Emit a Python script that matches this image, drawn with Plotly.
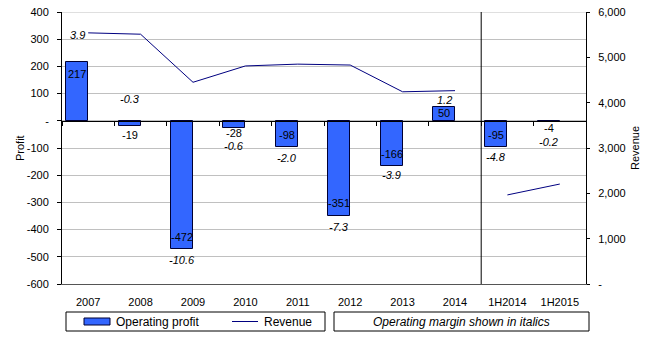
import plotly.graph_objects as go

# ---- data ----
categories = ["2007", "2008", "2009", "2010", "2011", "2012", "2013", "2014", "1H2014", "1H2015"]
operating_profit = [217, -19, -472, -28, -98, -351, -166, 50, -95, -4]
operating_margin = [3.9, -0.3, -10.6, -0.6, -2.0, -7.3, -3.9, 1.2, -4.8, -0.2]
revenue = [5540, 5510, 4450, 4810, 4850, 4830, 4240, 4265, 1965, 2205]

profit_ticks = list(range(-600, 401, 100))
profit_tick_text = ["-" if v == 0 else str(v) for v in profit_ticks]
revenue_ticks = list(range(0, 6001, 1000))
revenue_tick_text = ["-" if v == 0 else f"{v:,}" for v in revenue_ticks]

# half-year columns start here (separated by a vertical rule)
split = categories.index("1H2014")

# ---- label placement (pixel nudges from the bar end, positive = up) ----
profit_label_shift = [-12, -9, 12, -5, 12.5, 13, 12, -6, 11.7, -6]
margin_label_shift = [27, 27, -11, -17.6, -10.5, -10.4, -9, 7, -10, -20]

FONT = "Arial, Liberation Sans, sans-serif"
BAR_BLUE = "#3366FF"
NAVY = "#000080"
GRID = "#C0C0C0"

# plot area in pixels
W, H = 655, 337
L, R, T, B = 62, 69, 12, 53
PW, PH = W - L - R, H - T - B


def px_x(p):
    return (p - L) / PW


def px_y(p):
    return (T + PH - p) / PH


BAR_W = 0.42

fig = go.Figure()

fig.add_trace(go.Bar(
    x=categories, y=operating_profit, width=BAR_W, offset=-BAR_W,
    marker=dict(color=BAR_BLUE, line=dict(color="#000033", width=1)),
    name="Operating profit", showlegend=False, yaxis="y", xaxis="x",
))

fig.add_trace(go.Scatter(
    x=categories[:split], y=revenue[:split], mode="lines",
    line=dict(color=NAVY, width=1), name="Revenue", showlegend=False,
    yaxis="y2", xaxis="x",
))
fig.add_trace(go.Scatter(
    x=categories[split:], y=revenue[split:], mode="lines",
    line=dict(color=NAVY, width=1), name="Revenue", showlegend=False,
    yaxis="y2", xaxis="x",
))

# carrier for the zero-crossing category axis
fig.add_trace(go.Scatter(
    x=[-0.5, len(categories) - 0.5], y=[0, 0], mode="markers",
    marker=dict(opacity=0), hoverinfo="skip", showlegend=False,
    xaxis="x2", yaxis="y",
))

annotations = []
for i, (p, m) in enumerate(zip(operating_profit, operating_margin)):
    xc = i - BAR_W / 2
    annotations.append(dict(
        x=xc, y=p, xref="x", yref="y", text=str(p), showarrow=False,
        yanchor="middle", yshift=profit_label_shift[i],
        font=dict(family=FONT, size=11, color="black"),
    ))
    annotations.append(dict(
        x=xc, y=p, xref="x", yref="y", text=f"<i>{m:.1f}</i>", showarrow=False,
        yanchor="middle", yshift=margin_label_shift[i],
        font=dict(family=FONT, size=11, color="black"),
    ))

# axis titles
annotations.append(dict(
    x=px_x(12), y=0.5, xref="paper", yref="paper", text="Profit", textangle=-90,
    showarrow=False, font=dict(family=FONT, size=11, color="black"),
))
annotations.append(dict(
    x=px_x(643), y=0.5, xref="paper", yref="paper", text="Revenue", textangle=-90,
    showarrow=False, font=dict(family=FONT, size=11, color="black"),
))

# legend boxes
leg_top, leg_bot = 312, 331
leg_mid = (leg_top + leg_bot) / 2
annotations += [
    dict(x=px_x(114), y=px_y(leg_mid), xref="paper", yref="paper", xanchor="left",
         yanchor="middle", text="Operating profit", showarrow=False,
         font=dict(family=FONT, size=12, color="black")),
    dict(x=px_x(262), y=px_y(leg_mid), xref="paper", yref="paper", xanchor="left",
         yanchor="middle", text="Revenue", showarrow=False,
         font=dict(family=FONT, size=12, color="black")),
    dict(x=px_x(461.5), y=px_y(leg_mid), xref="paper", yref="paper", xanchor="center",
         yanchor="middle", text="<i>Operating margin shown in italics</i>", showarrow=False,
         font=dict(family=FONT, size=12, color="black")),
]

shapes = [
    # top border of the plot area, drawn like a gridline
    dict(type="line", xref="paper", yref="y", x0=0, x1=1,
         y0=profit_ticks[-1], y1=profit_ticks[-1], line=dict(color=GRID, width=1),
         layer="below"),
    # separator between full years and half years
    dict(type="line", xref="x", yref="paper", x0=split - 0.5, x1=split - 0.5, y0=0, y1=1,
         line=dict(color="black", width=1)),
    dict(type="rect", xref="paper", yref="paper", x0=px_x(66), x1=px_x(325),
         y0=px_y(leg_top), y1=px_y(leg_bot), line=dict(color="black", width=1)),
    dict(type="rect", xref="paper", yref="paper", x0=px_x(84), x1=px_x(110),
         y0=px_y(318), y1=px_y(325), fillcolor=BAR_BLUE,
         line=dict(color="#000033", width=1)),
    dict(type="line", xref="paper", yref="paper", x0=px_x(232), x1=px_x(258),
         y0=px_y(leg_mid), y1=px_y(leg_mid), line=dict(color=NAVY, width=1)),
    dict(type="rect", xref="paper", yref="paper", x0=px_x(334), x1=px_x(589),
         y0=px_y(leg_top), y1=px_y(leg_bot), line=dict(color="black", width=1)),
]

zero_pos = (0 - profit_ticks[0]) / (profit_ticks[-1] - profit_ticks[0])

fig.update_layout(
    width=W, height=H,
    margin=dict(l=L, r=R, t=T, b=B, pad=0),
    paper_bgcolor="white", plot_bgcolor="white",
    font=dict(family=FONT, size=11, color="black"),
    showlegend=False,
    bargap=0,
    xaxis=dict(
        type="category", categoryorder="array", categoryarray=categories,
        range=[-0.5, len(categories) - 0.5],
        showline=True, linecolor="#555555", linewidth=1,
        ticks="", showgrid=False, zeroline=False,
        tickfont=dict(family=FONT, size=11), ticklabelstandoff=8,
        fixedrange=True,
    ),
    xaxis2=dict(
        overlaying="x", anchor="free", position=zero_pos,
        range=[-0.5, len(categories) - 0.5],
        tickvals=[i - 0.5 for i in range(len(categories) + 1)],
        ticks="outside", ticklen=4, tickcolor="black",
        showticklabels=False, showline=True, linecolor="black", linewidth=1,
        showgrid=False, zeroline=False,
    ),
    yaxis=dict(
        range=[profit_ticks[0], profit_ticks[-1]],
        tickvals=profit_ticks, ticktext=profit_tick_text,
        showgrid=True, gridcolor=GRID, gridwidth=1,
        zeroline=False, showline=True, linecolor="black", linewidth=1,
        ticks="outside", ticklen=4, tickcolor="black",
        tickfont=dict(family=FONT, size=11), ticklabelstandoff=6,
        automargin=False,
    ),
    yaxis2=dict(
        overlaying="y", side="right", anchor="x",
        range=[revenue_ticks[0], revenue_ticks[-1]],
        tickvals=revenue_ticks, ticktext=revenue_tick_text,
        showgrid=False, zeroline=False,
        showline=True, linecolor="black", linewidth=1,
        ticks="outside", ticklen=3, tickcolor="black",
        tickfont=dict(family=FONT, size=11), ticklabelstandoff=6,
        automargin=False,
    ),
    annotations=annotations,
    shapes=shapes,
)

fig.write_html("out.html")
